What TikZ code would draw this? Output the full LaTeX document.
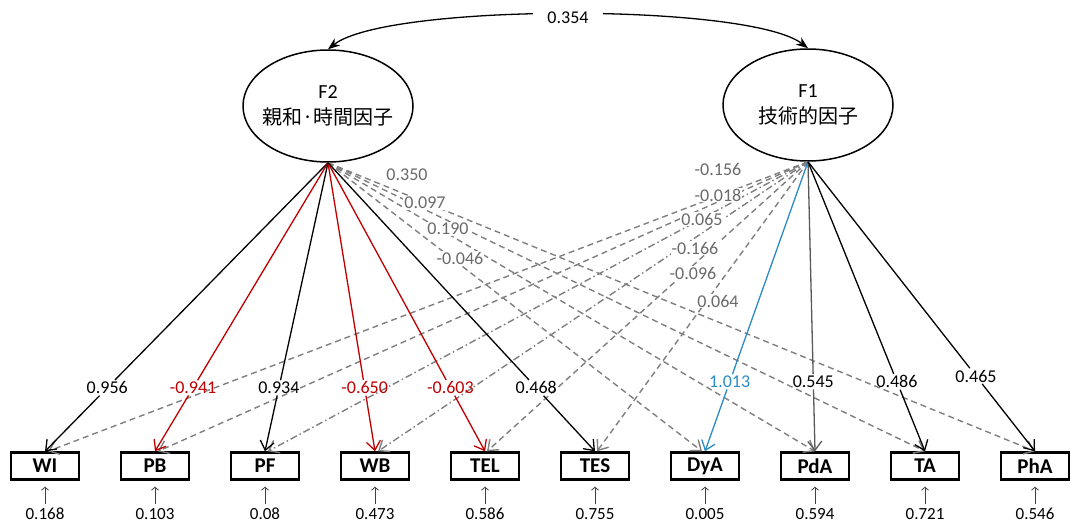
\documentclass[tikz,border=0pt]{standalone}
\usepackage{fontspec}
\setmainfont{Carlito}
\newfontfamily\jp{Noto Sans CJK JP}
\usetikzlibrary{shapes.geometric,arrows.meta}
\definecolor{myred}{HTML}{C00000}
\definecolor{myblue}{HTML}{2A8CC4}
\definecolor{dgray}{HTML}{7F7F7F}
\definecolor{lgray}{HTML}{6A6A6A}
\definecolor{sgray}{HTML}{595959}
\tikzset{
  fac/.style={ellipse, draw, line width=1.5pt, minimum width=170pt, minimum height=112pt,
    inner xsep=-6pt, inner ysep=0pt, align=center, font=\fontsize{20}{26}\selectfont},
  obs/.style={draw, line width=2.4pt, minimum width=68pt, minimum height=27pt,
    inner sep=0pt, font=\fontsize{21}{21}\selectfont\bfseries},
  err/.style={font=\fontsize{17}{17}\selectfont, inner sep=1pt},
  lbl/.style={font=\fontsize{18}{18}\selectfont, inner sep=1.5pt},
  glbl/.style={font=\fontsize{18}{18}\selectfont, text=lgray, fill=white, inner sep=1pt},
  tip/.style={-{Straight Barb[length=9pt,width=14pt]}},
  sl/.style={line width=1.3pt, draw=black},
  rl/.style={line width=1.3pt, draw=myred},
  bl/.style={line width=1.3pt, draw=myblue},
  gl/.style={line width=1.3pt, draw=sgray},
  dl/.style={line width=1.4pt, draw=dgray, dash pattern=on 6pt off 4pt},
  ddl/.style={line width=1.4pt, draw=dgray, dash pattern=on 7pt off 3pt on 1.5pt off 3pt},
  errarr/.style={-{Straight Barb[length=3pt,width=7pt]}, line width=0.8pt, draw=black!75,
    shorten >=6pt, shorten <=3pt},
}
\newcommand\lnk[7]{%
  \path (#2) -- node[lbl,#6,pos=#4] (#7) {#5} (#3);
  \draw[#1] (#2) -- (#7);
  \draw[#1,tip] (#7) -- (#3);}
\begin{document}
\begin{tikzpicture}[x=1pt,y=-1pt]
\useasboundingbox (0,0) rectangle (1071,525);

% factors
\node[fac] (F2) at (328,106) {F2\\{\jp 親和·時間因子}};
\node[fac] (F1) at (808,105) {F1\\{\jp 技術的因子}};

% correlation
\draw[line width=1.3pt, {Stealth[length=12pt,width=9pt]}-{Stealth[length=12pt,width=9pt]}]
  (F2.north) .. controls (387,3) and (749,3) .. (F1.north)
  node[pos=0.5, lbl, fill=white, inner xsep=14pt, yshift=-3pt] (cor) {0.354};

% observed variables
\foreach \n/\t [count=\i from 0] in {b1/WI,b2/PB,b3/PF,b4/WB,b5/TEL,b6/TES,b7/DyA,b8/PdA,b9/TA,b10/PhA}
  \node[obs] (\n) at ({45+110*\i},466) {\t};

% errors
\foreach \n/\v [count=\i from 0] in {e1/0.168,e2/0.103,e3/0.08,e4/0.473,e5/0.586,e6/0.755,e7/0.005,e8/0.594,e9/0.721,e10/0.546}
  \node[err] (\n) at ({45+110*\i},514) {\v};
\foreach \i in {1,...,10}
  \draw[errarr] (e\i.north) -- (b\i.south);

% F1 cross loadings (dashed)
\draw[dl,tip] (F1.south) -- ([xshift=3pt]b1.north);
\draw[dl,tip] (F1.south) -- ([xshift=3pt]b2.north);
\draw[ddl,tip] (F1.south) -- ([xshift=3pt]b3.north);
\draw[ddl,tip] (F1.south) -- ([xshift=3pt]b4.north);
\draw[dl,tip] (F1.south) -- ([xshift=2pt]b5.north);
\draw[dl,tip] (F1.south) -- ([xshift=2pt]b6.north);

% F2 cross loadings (dashed)
\draw[dl,tip] (F2.south) -- ([xshift=-3pt]b7.north);
\draw[dl,tip] (F2.south) -- (b8.north);
\draw[dl,tip] (F2.south) -- (b9.north);
\draw[dl,tip] (F2.south) -- (b10.north);

% F2 main loadings
\lnk{sl}{F2.south}{b1.north}{0.78}{0.956}{text=black}{l1}
\lnk{rl}{F2.south}{b2.north}{0.78}{-0.941}{text=myred}{l2}
\lnk{sl}{F2.south}{b3.north}{0.78}{0.934}{text=black}{l3}
\lnk{rl}{F2.south}{b4.north}{0.78}{-0.650}{text=myred}{l4}
\lnk{rl}{F2.south}{b5.north}{0.78}{-0.603}{text=myred}{l5}
\lnk{sl}{F2.south}{b6.north}{0.78}{0.468}{text=black}{l6}

% F1 main loadings
\lnk{bl}{F1.south}{b7.north}{0.76}{1.013}{text=myblue}{l7}
\lnk{gl}{F1.south}{b8.north}{0.76}{0.545}{text=black}{l8}
\lnk{sl}{F1.south}{b9.north}{0.76}{0.486}{text=black}{l9}
\lnk{sl}{F1.south}{b10.north}{0.74}{0.465}{text=black}{l10}

% cross loading labels
\node[glbl] (g1) at (407,175) {0.350};
\node[glbl] (g2) at (425,203) {0.097};
\node[glbl] (g3) at (448,229) {0.190};
\node[glbl] (g4) at (460,258) {-0.046};
\node[glbl] (h1) at (718,169) {-0.156};
\node[glbl] (h2) at (718,195) {-0.018};
\node[glbl] (h3) at (702,219) {0.065};
\node[glbl] (h4) at (695,248) {-0.166};
\node[glbl] (h5) at (693,273) {-0.096};
\node[glbl] (h6) at (718,301) {0.064};
\end{tikzpicture}
\end{document}
